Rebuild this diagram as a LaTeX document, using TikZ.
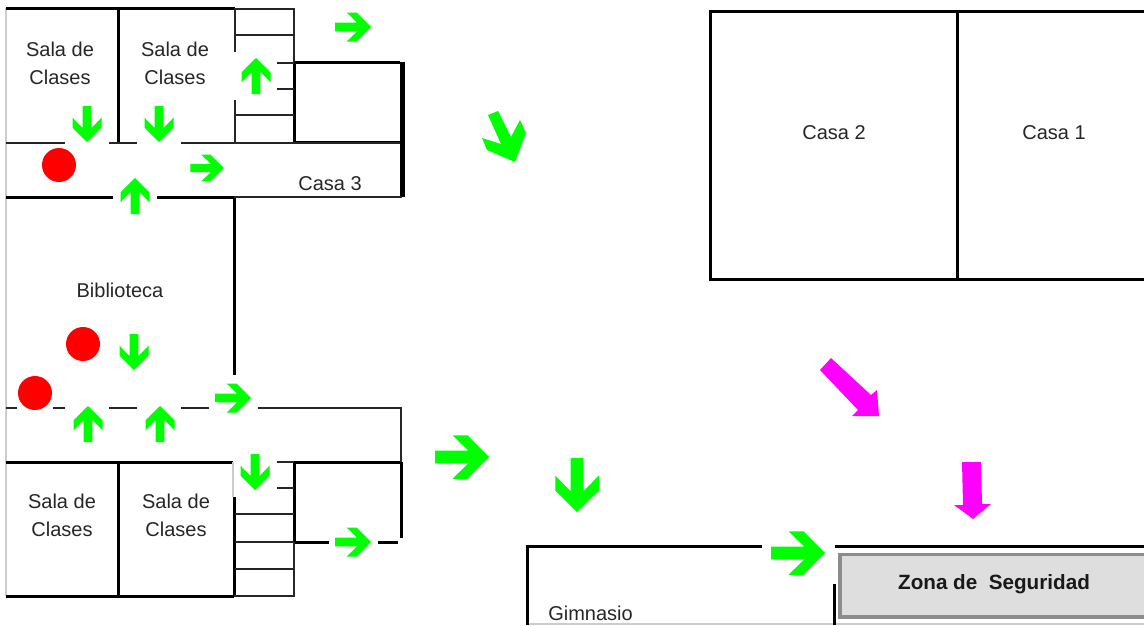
\documentclass[tikz,border=0pt]{standalone}
\usepackage{fontspec}
\setmainfont{Liberation Sans}
\definecolor{verde}{RGB}{0,255,0}
\definecolor{rosado}{RGB}{255,0,255}
\definecolor{rojo}{RGB}{255,0,0}
\tikzset{salida/.pic={\fill[verde] (-18,4.3) -- (4.2,4.3) -- (-6.3,14.5) -- (3.7,14.5) -- (18,0) -- (3.7,-14.5) -- (-6.3,-14.5) -- (4.2,-4.3) -- (-18,-4.3) -- cycle;}}
\begin{document}
\begin{tikzpicture} [x=.75pt,y=-.75pt,
	muro/.style={line width=2.25pt},
	linea/.style={line width=.95pt,color=black!85},
	borde/.style={line width=1.1pt,color=black!20},
	rotulo/.style={text=black!85,align=center,inner sep=0pt,font=\fontsize{15}{21}\selectfont},
	punto/.style={circle,fill=rojo,minimum size=25.5pt,inner sep=0pt}]
	\useasboundingbox (0,0) rectangle (1144,625);

	% bloque de salas
	\draw[borde] (6,8) -- (6,596);
	\foreach \a/\b/\c/\d in {6/8/235/8, 118/8/118/143, 294/62/294/143, 294/62/400/62, 294/142/400/142,
		6/197/113/197, 157/197/235/197, 234/197/234/375, 6/462/233/462, 294/462/400/462,
		118/462/118/596, 234/497/234/596, 294/462/294/542, 294/542/329/542, 378/542/398/542,
		6/596/234/596, 401/462/401/538}
		\draw[muro] (\a,\b) -- (\c,\d);
	\draw[line width=3.75pt] (402,62) -- (402,197);
	\foreach \a/\b/\c/\d in {235/9/295/9, 294/9/294/62, 235/8/235/52, 235/100/235/143, 235/35/294/35,
		277/63/294/63, 277/89/294/89, 235/115/294/115, 6/143/65/143, 109/143/137/143, 181/143/400/143,
		234/197/402/197, 6/408/17/408, 53/408/65/408, 109/408/137/408, 181/408/209/408, 258/408/402/408,
		401/408/401/462, 277/462/294/462, 277/488/294/488, 235/514/294/514, 235/542/294/542,
		235/569/294/569, 234/596/295/596, 294/542/294/596}
		\draw[linea] (\a,\b) -- (\c,\d);
	\draw[borde] (233,462) -- (233,497);

	% casas, gimnasio y zona
	\draw[muro] (1144,11) -- (710,11) -- (710,279) -- (1144,279);
	\draw[muro] (957,11) -- (957,279);
	\draw[borde] (527,624) -- (1144,624);
	\draw[muro] (527,625) -- (527,546) -- (762,546);
	\draw[muro] (834,584) -- (834,625);
	\draw[muro] (835,546) -- (1144,546);
	\draw[line width=2.4pt,color=black!45,fill=black!13] (1150,554.5) -- (840,554.5) -- (840,617) -- (1150,617);

	\node[rotulo] (sala1) at (60,63) {Sala de\\Clases};
	\node[rotulo] (sala2) at (175,63) {Sala de\\Clases};
	\node[rotulo] (sala3) at (62,515) {Sala de\\Clases};
	\node[rotulo] (sala4) at (176,515) {Sala de\\Clases};
	\node[rotulo] (casa3) at (330,184) {Casa 3};
	\node[rotulo] (biblioteca) at (120,290) {Biblioteca};
	\node[rotulo] (casa2) at (834,133) {Casa 2};
	\node[rotulo] (casa1) at (1054,133) {Casa 1};
	\node[rotulo,anchor=base west] (gimnasio) at (548,620) {Gimnasio};
	\node[rotulo,text=black!90,font=\fontsize{15.5}{18}\bfseries] (zona) at (994,584) {Zona de\ \ Seguridad};

	\node[punto] (p1) at (59,165) {};
	\node[punto] (p2) at (83,344) {};
	\node[punto] (p3) at (35,393) {};

	% flechas
	\foreach \a/\b/\c/\d in {353/27/0/1, 207/168/0/.93, 233/398/0/1, 353/542/0/1, 256/76/90/1,
		87/124/-90/1, 159/124/-90/1, 135/196/90/1, 134/352/-90/1, 88/424/90/1, 160/424/90/1,
		255/472/-90/1, 462/457/0/1.5, 577/485/-90/1.5, 798/553/0/1.5}
		\pic[rotate=\c,scale=\d] at (\a,\b) {salida};
	\fill[verde] (488,115) -- (498,111) -- (511,137) -- (520,120) -- (526,133) -- (515,162) -- (487,150) -- (482,138) -- (501,144) -- cycle;
	\fill[rosado] (820,370) -- (831,358) -- (871,395) -- (877,390) -- (879,416) -- (852,416) -- (858,410) -- cycle;
	\fill[rosado] (962,462) -- (981,462) -- (982,504) -- (991,504) -- (973,519) -- (954,505) -- (963,505) -- cycle;
\end{tikzpicture}
\end{document}
